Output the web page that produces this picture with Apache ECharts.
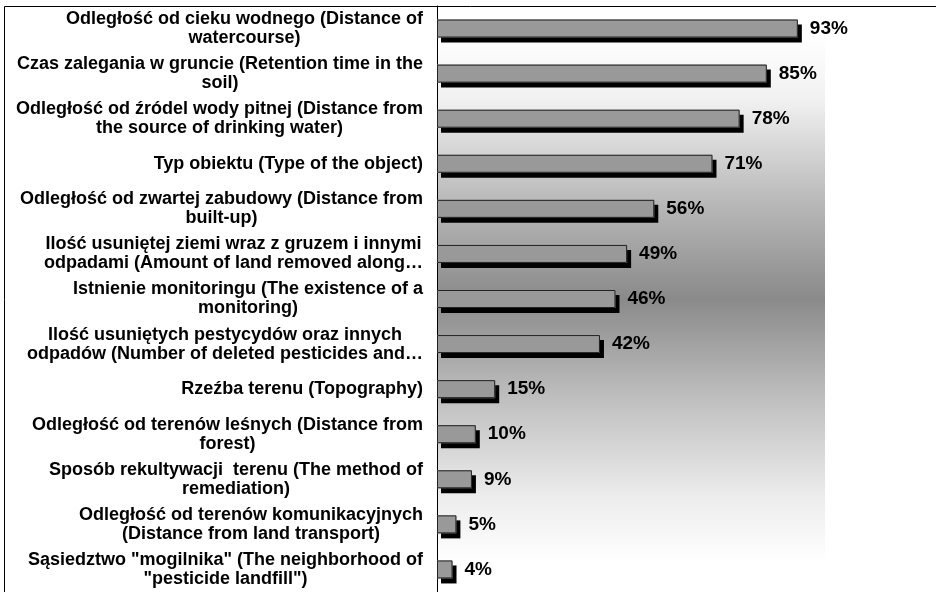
<!DOCTYPE html>
<html>
<head>
<meta charset="utf-8">
<script src="https://cdn.jsdelivr.net/npm/echarts@6/dist/echarts.min.js"></script>
<style>
  html, body { margin: 0; padding: 0; background: #fff; }
  #chart { width: 936px; height: 592px; }
</style>
</head>
<body>
<div id="chart"></div>
<script>
// Kryteria (kolejność jak na wykresie, od góry)
const categories = [
    'Odległość od cieku wodnego (Distance of\nwatercourse)',
    'Czas zalegania w gruncie (Retention time in the\nsoil)',
    'Odległość od źródel wody pitnej (Distance from\nthe source of drinking water)',
    'Typ obiektu (Type of the object)',
    'Odległość od zwartej zabudowy (Distance from\nbuilt-up)',
    'Ilość usuniętej ziemi wraz z gruzem i innymi\nodpadami (Amount of land removed along…',
    'Istnienie monitoringu (The existence of a\nmonitoring)',
    'Ilość usuniętych pestycydów oraz innych\nodpadów (Number of deleted pesticides and…',
    'Rzeźba terenu (Topography)',
    'Odległość od terenów leśnych (Distance from\nforest)',
    'Sposób rekultywacji  terenu (The method of\nremediation)',
    'Odległość od terenów komunikacyjnych\n(Distance from land transport)',
    'Sąsiedztwo "mogilnika" (The neighborhood of\n"pesticide landfill")'
];

// Udział procentowy
const values = [93, 85, 78, 71, 56, 49, 46, 42, 15, 10, 9, 5, 4];

const FONT = 'Liberation Sans, Arial, sans-serif';

const chart = echarts.init(document.getElementById('chart'));

const option = {
    backgroundColor: '#fff',
    animation: false,
    // ramka obszaru wykresu (jak w Excelu)
    graphic: [{
        type: 'rect',
        shape: { x: 4.5, y: 6.5, width: 960, height: 620 },
        style: { fill: 'none', stroke: '#000', lineWidth: 1 },
        silent: true,
        z: 10
    }],
    grid: {
        left: 437,
        right: 111,
        top: 6,
        bottom: -1,
        show: true,
        borderWidth: 0,
        backgroundColor: new echarts.graphic.LinearGradient(0, 0, 0, 1, [
            { offset: 0, color: '#ffffff' },
            { offset: 0.05, color: '#ffffff' },
            { offset: 0.16, color: '#f1f1f1' },
            { offset: 0.33, color: '#bababa' },
            { offset: 0.5, color: '#8a8a8a' },
            { offset: 0.67, color: '#bfbfbf' },
            { offset: 0.84, color: '#ededed' },
            { offset: 0.95, color: '#ffffff' },
            { offset: 1, color: '#ffffff' }
        ])
    },
    xAxis: {
        type: 'value',
        min: 0,
        max: 100,
        show: false
    },
    yAxis: {
        type: 'category',
        data: categories,
        inverse: true,
        axisLine: { show: true, lineStyle: { color: '#000', width: 1 } },
        axisTick: { show: false },
        axisLabel: {
            margin: 14,
            align: 'right',
            // każda linia wyśrodkowana w bloku, blok wyrównany do osi
            formatter: (val) => val.split('\n').map(line => '{c|' + line + '}').join('\n'),
            rich: {
                c: {
                    align: 'center',
                    color: '#000',
                    fontFamily: FONT,
                    fontWeight: 'bold',
                    fontSize: 18,
                    lineHeight: 19
                }
            }
        }
    },
    series: [
        // słupek z czarnym cieniem
        {
            type: 'bar',
            data: values,
            barWidth: 18,
            itemStyle: {
                color: '#999999',
                borderWidth: 0,
                shadowColor: '#000',
                shadowBlur: 0,
                shadowOffsetX: 4,
                shadowOffsetY: 5
            },
            label: {
                show: true,
                position: 'right',
                distance: 12,
                formatter: '{c}%',
                color: '#000',
                fontFamily: FONT,
                fontWeight: 'bold',
                fontSize: 19
            }
        },
        // obrys słupka (bez cienia)
        {
            type: 'bar',
            data: values,
            barWidth: 18,
            barGap: '-100%',
            silent: true,
            itemStyle: {
                color: 'rgba(0,0,0,0)',
                borderColor: '#222',
                borderWidth: 1
            }
        }
    ]
};

chart.setOption(option);
</script>
</body>
</html>
